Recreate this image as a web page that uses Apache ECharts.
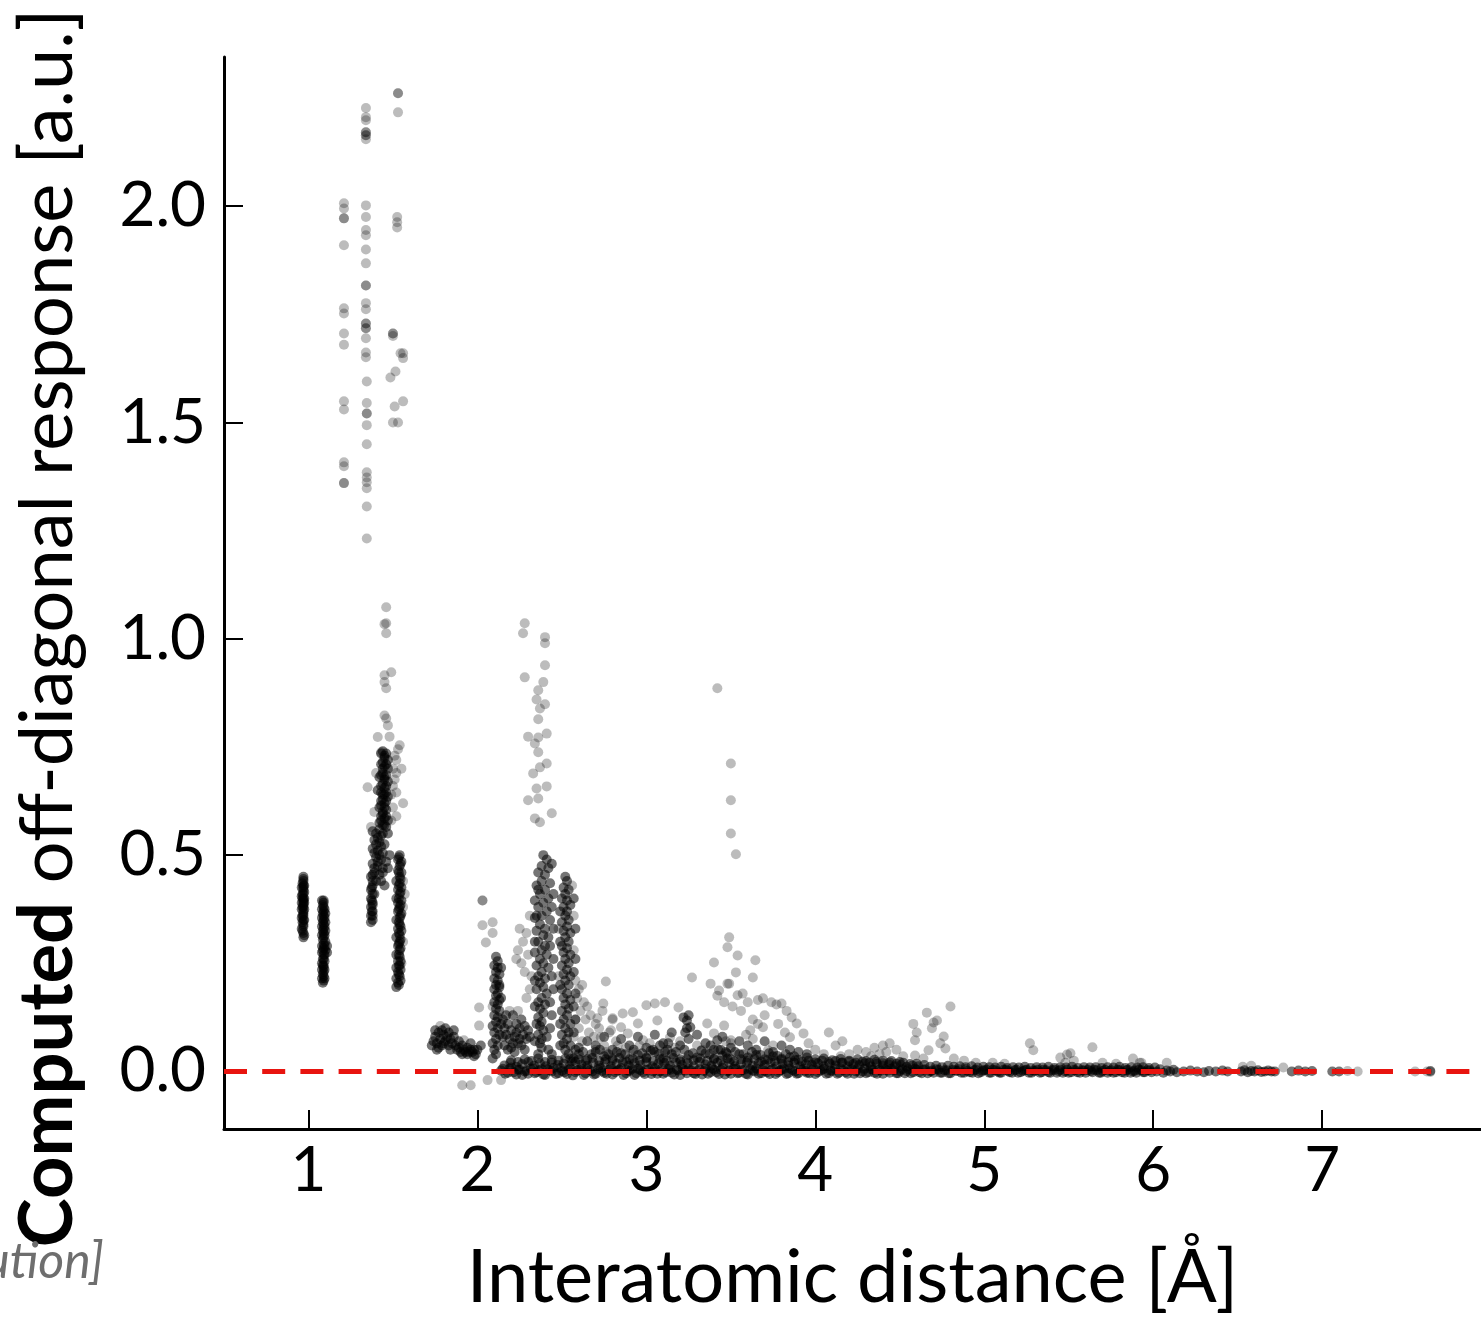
<!DOCTYPE html>
<html><head><meta charset="utf-8">
<script src="https://cdn.jsdelivr.net/npm/echarts@6/dist/echarts.min.js"></script>
<style>html,body{margin:0;padding:0;background:#fff}#c{width:1481px;height:1319px}</style>
</head><body><div id="c"></div><script>
// ---- tick values ----
const xTicks = [1, 2, 3, 4, 5, 6, 7];
const yTicks = [0, 0.5, 1.0, 1.5, 2.0];
// reference line y = 0
const refX = [0.5, 8];
const refY = [0, 0];

// ---- data: [distance, response] ----
// densely populated groups
const shortBonds = [
[0.97,0.45],[0.97,0.44],[0.97,0.43],[0.96,0.425],[0.97,0.42],[0.97,0.41],[0.96,0.405],[0.97,0.40],[0.97,0.395],[0.96,0.39],[0.97,0.385],[0.97,0.38],[0.96,0.375],[0.97,0.37],[0.97,0.36],[0.96,0.355],[0.97,0.35],[0.97,0.34],[0.96,0.33],[0.97,0.32],[0.97,0.31],[0.965,0.36],[0.975,0.39],[0.965,0.41],[0.975,0.43],
[0.97,0.445],[0.965,0.435],[0.97,0.425],[0.975,0.415],[0.965,0.40],[0.975,0.40],[0.97,0.39],[0.965,0.38],[0.975,0.375],[0.97,0.365],[0.965,0.345],[0.975,0.35],[0.97,0.335],[0.965,0.325],[0.975,0.315],
[1.08,0.395],[1.09,0.39],[1.09,0.38],[1.08,0.375],[1.09,0.37],[1.10,0.365],[1.09,0.36],[1.08,0.355],[1.09,0.35],[1.10,0.345],[1.09,0.34],[1.08,0.335],[1.09,0.33],[1.10,0.325],[1.09,0.32],[1.08,0.315],[1.09,0.31],[1.10,0.30],[1.09,0.295],[1.08,0.29],[1.11,0.29],[1.09,0.285],[1.10,0.28],[1.08,0.275],[1.09,0.27],[1.11,0.275],[1.09,0.26],[1.08,0.25],[1.09,0.245],[1.09,0.24],[1.08,0.235],[1.09,0.23],[1.09,0.22],[1.08,0.215],[1.09,0.21],
[1.09,0.395],[1.085,0.385],[1.095,0.375],[1.085,0.365],[1.095,0.355],[1.085,0.345],[1.095,0.335],[1.085,0.325],[1.095,0.315],[1.085,0.305],[1.095,0.29],[1.085,0.28],[1.095,0.27],[1.085,0.26],[1.095,0.255],[1.085,0.245],[1.095,0.235],[1.085,0.225],[1.095,0.215],[1.085,0.205]
];
const bond15Core = [
[1.44,0.74],[1.46,0.735],[1.45,0.725],[1.47,0.72],[1.43,0.71],[1.45,0.705],[1.47,0.70],[1.44,0.69],[1.46,0.685],[1.42,0.68],[1.45,0.675],[1.47,0.67],[1.43,0.66],[1.45,0.655],[1.41,0.65],[1.46,0.645],[1.44,0.64],[1.47,0.635],[1.43,0.625],[1.45,0.62],[1.42,0.61],[1.46,0.605],[1.44,0.60],[1.43,0.59],[1.45,0.585],[1.47,0.58],[1.42,0.575],[1.44,0.57],[1.46,0.565],
[1.43,0.735],[1.45,0.73],[1.44,0.715],[1.46,0.71],[1.44,0.70],[1.43,0.685],[1.45,0.68],[1.44,0.665],[1.46,0.66],[1.43,0.645],[1.45,0.64],[1.44,0.63],[1.46,0.625],[1.43,0.615],[1.45,0.61],[1.44,0.595],[1.46,0.59],[1.43,0.58],[1.45,0.57],[1.42,0.56],[1.44,0.55],[1.41,0.54],[1.43,0.52],[1.40,0.525],[1.42,0.50],[1.39,0.505],[1.41,0.485],[1.39,0.47],[1.38,0.455],[1.38,0.44],[1.375,0.425],[1.38,0.41],[1.375,0.395],[1.38,0.385],[1.375,0.37],[1.38,0.36],
[1.38,0.555],[1.40,0.55],[1.43,0.545],[1.47,0.55],[1.39,0.535],[1.42,0.53],[1.45,0.525],[1.38,0.515],[1.41,0.51],[1.44,0.505],[1.48,0.50],[1.40,0.495],[1.43,0.49],[1.46,0.485],[1.38,0.48],[1.41,0.475],[1.44,0.47],[1.39,0.46],[1.42,0.455],[1.37,0.45],[1.40,0.44],[1.38,0.43],[1.37,0.42],[1.39,0.41],[1.37,0.40],[1.38,0.39],[1.37,0.38],[1.38,0.37],[1.37,0.36],[1.38,0.35],[1.37,0.345],[1.43,0.44],[1.44,0.46],[1.47,0.47],[1.45,0.43],
[1.54,0.50],[1.53,0.49],[1.55,0.485],[1.54,0.475],[1.53,0.465],[1.55,0.46],[1.54,0.45],[1.52,0.44],[1.54,0.435],[1.55,0.425],[1.53,0.42],[1.54,0.41],[1.52,0.40],[1.55,0.395],[1.53,0.39],[1.54,0.38],[1.53,0.37],[1.55,0.365],[1.54,0.355],[1.52,0.35],[1.54,0.34],[1.53,0.33],[1.55,0.325],[1.54,0.315],[1.52,0.31],[1.54,0.30],[1.53,0.29],[1.54,0.28],[1.52,0.27],[1.54,0.265],[1.53,0.255],[1.54,0.245],[1.52,0.24],[1.53,0.23],[1.54,0.22],[1.52,0.215],[1.53,0.205],[1.52,0.195],
[1.535,0.495],[1.545,0.48],[1.535,0.46],[1.545,0.445],[1.535,0.43],[1.545,0.415],[1.535,0.40],[1.545,0.385],[1.535,0.375],[1.545,0.36],[1.535,0.345],[1.545,0.335],[1.535,0.32],[1.545,0.305],[1.535,0.295],[1.545,0.285],[1.535,0.27],[1.545,0.255],[1.535,0.245],[1.545,0.235],[1.535,0.225],[1.545,0.21],[1.535,0.20]
];
const bond2Core = [
[1.74,0.07],[1.75,0.08],[1.76,0.065],[1.77,0.09],[1.78,0.075],[1.79,0.095],[1.80,0.085],[1.80,0.065],[1.81,0.07],[1.82,0.08],[1.83,0.09],[1.84,0.075],[1.85,0.065],[1.86,0.08],[1.87,0.06],[1.88,0.05],[1.89,0.055],[1.90,0.045],[1.91,0.04],[1.92,0.05],[1.93,0.045],[1.94,0.055],[1.95,0.045],[1.96,0.05],[1.97,0.045],[1.98,0.05],[1.99,0.04],[1.76,0.05],[1.83,0.06],
[1.73,0.06],[1.75,0.095],[1.77,0.055],[1.79,0.06],[1.81,0.10],[1.84,0.05],[1.86,0.095],[1.89,0.07],[1.91,0.06],[1.94,0.04],[1.96,0.065],[1.98,0.035],[2.00,0.05],[2.02,0.06],
[2.11,0.265],[2.12,0.255],[2.10,0.245],[2.12,0.24],[2.11,0.23],[2.13,0.225],[2.10,0.215],[2.12,0.21],[2.11,0.20],[2.13,0.195],[2.10,0.19],[2.12,0.18],[2.11,0.175],[2.13,0.165],[2.10,0.16],[2.12,0.155],[2.11,0.145],[2.13,0.14],[2.10,0.13],[2.12,0.125],[2.11,0.115],[2.14,0.11],[2.09,0.105],[2.12,0.10],[2.10,0.09],[2.13,0.085],[2.11,0.075],[2.09,0.065],[2.12,0.06],[2.10,0.05],[2.11,0.04],[2.09,0.03],[2.13,0.20],[2.14,0.17],[2.14,0.24],
[2.15,0.12],[2.16,0.10],[2.17,0.085],[2.18,0.11],[2.19,0.075],[2.20,0.095],[2.21,0.13],[2.22,0.08],[2.23,0.11],[2.24,0.065],[2.25,0.10],[2.26,0.12],[2.27,0.085],[2.28,0.105],[2.29,0.075],[2.30,0.095],[2.31,0.08],[2.16,0.06],[2.18,0.05],[2.20,0.055],[2.22,0.045],[2.15,0.08],[2.17,0.13],[2.26,0.06],[2.28,0.05],[2.21,0.065],[2.23,0.09],[2.25,0.075]
];
const bond25Core = [
[2.39,0.50],[2.41,0.49],[2.38,0.475],[2.42,0.47],[2.36,0.46],[2.40,0.455],[2.38,0.44],[2.43,0.435],[2.35,0.43],[2.40,0.42],[2.37,0.41],[2.42,0.40],[2.34,0.395],[2.39,0.39],[2.36,0.38],[2.41,0.37],[2.38,0.36],[2.34,0.355],[2.43,0.35],[2.37,0.34],[2.40,0.33],[2.35,0.325],[2.39,0.315],[2.42,0.31],[2.36,0.30],[2.40,0.29],[2.38,0.28],[2.34,0.275],[2.41,0.27],[2.37,0.26],[2.39,0.25],[2.35,0.245],[2.42,0.24],[2.38,0.23],[2.36,0.22],[2.40,0.215],[2.37,0.205],[2.39,0.195],[2.35,0.19],[2.41,0.18],[2.38,0.17],[2.36,0.16],[2.40,0.155],[2.37,0.145],[2.39,0.135],[2.36,0.125],[2.38,0.115],[2.37,0.105],[2.39,0.095],[2.36,0.085],[2.38,0.075],[2.37,0.065],[2.38,0.055],
[2.44,0.48],[2.36,0.42],[2.45,0.41],[2.44,0.38],[2.35,0.36],[2.45,0.33],[2.43,0.29],[2.34,0.30],[2.45,0.26],[2.44,0.22],[2.34,0.21],[2.45,0.19],[2.43,0.16],[2.34,0.15],[2.44,0.13],[2.35,0.11],[2.43,0.10],[2.41,0.08],[2.34,0.07],[2.42,0.05],[2.36,0.04],[2.44,0.04],
[2.52,0.45],[2.53,0.44],[2.51,0.425],[2.54,0.42],[2.52,0.41],[2.50,0.40],[2.53,0.395],[2.55,0.385],[2.51,0.38],[2.53,0.37],[2.52,0.36],[2.54,0.35],[2.50,0.345],[2.53,0.335],[2.51,0.325],[2.55,0.32],[2.52,0.31],[2.54,0.30],[2.50,0.29],[2.53,0.285],[2.51,0.275],[2.55,0.27],[2.52,0.26],[2.54,0.25],[2.50,0.245],[2.53,0.235],[2.51,0.225],[2.55,0.22],[2.52,0.21],[2.54,0.20],[2.50,0.19],[2.53,0.18],[2.51,0.17],[2.55,0.165],[2.52,0.155],[2.54,0.145],[2.50,0.14],[2.53,0.13],[2.51,0.12],[2.55,0.11],[2.52,0.10],[2.54,0.09],[2.50,0.085],[2.53,0.075],[2.51,0.065],[2.55,0.06],[2.52,0.05],[2.54,0.04],
[2.57,0.40],[2.49,0.37],[2.58,0.33],[2.49,0.30],[2.58,0.26],[2.57,0.23],[2.49,0.20],[2.58,0.18],[2.57,0.15],[2.49,0.11],[2.58,0.12],[2.57,0.09],[2.49,0.06],[2.58,0.05],[2.57,0.03]
];
const midRangeCore = [
[2.60,0.055],[2.65,0.07],[2.70,0.06],[2.75,0.08],[2.80,0.05],[2.85,0.075],[2.90,0.06],[2.95,0.08],[3.00,0.055],[3.05,0.085],[3.10,0.065],[3.15,0.09],[3.20,0.06],[3.25,0.075],[3.30,0.085],[3.35,0.065],[3.40,0.05],[3.45,0.08],[3.50,0.055],[3.55,0.07],[3.60,0.06],[3.65,0.05],[3.70,0.07],[3.75,0.045],[3.80,0.06],[3.85,0.05],[3.90,0.045],[3.95,0.04],
[2.625,0.045],[2.675,0.04],[2.725,0.05],[2.775,0.04],[2.825,0.045],[2.875,0.04],[2.925,0.05],[2.975,0.042],[3.025,0.048],[3.075,0.04],[3.125,0.05],[3.175,0.045],[3.225,0.05],[3.275,0.042],[3.325,0.048],[3.375,0.04],[3.425,0.05],[3.475,0.042],[3.525,0.045],[3.575,0.04],[3.625,0.045],[3.675,0.038],[3.725,0.042],[3.775,0.036],[3.825,0.04],[3.875,0.035],
[3.24,0.118],[3.24,0.10],[3.26,0.102],[3.22,0.125],[3.25,0.13],[3.23,0.09],[3.42,0.072],[3.44,0.05],[3.47,0.045],[3.38,0.06],[3.04,0.05],[3.08,0.06],[3.11,0.045],[3.13,0.065]
];
const zeroBand = [
[2.14,0.002],[2.165,-0.005],[2.19,0.006],[2.215,-0.002],[2.24,0.004],[2.265,-0.008],[2.29,0.001],[2.315,0.007],[2.34,-0.004],[2.365,0.003],[2.39,-0.007],[2.415,0.005],[2.44,0.0],[2.465,-0.006],[2.49,0.008],[2.515,-0.002],[2.54,0.004],[2.565,-0.009],[2.59,0.002],[2.615,0.006],[2.64,-0.004],[2.665,0.003],[2.69,-0.007],[2.715,0.005],[2.74,0.001],[2.765,-0.005],[2.79,0.007],[2.815,-0.002],[2.84,0.004],[2.865,-0.008],[2.89,0.002],[2.915,0.006],[2.94,-0.004],[2.965,0.003],[2.99,-0.006],[3.015,0.005],[3.04,0.0],[3.065,-0.005],[3.09,0.007],[3.115,-0.002],[3.14,0.004],[3.165,-0.007],[3.19,0.002],[3.215,0.006],[3.24,-0.004],[3.265,0.003],[3.29,-0.006],[3.315,0.005],[3.34,0.001],[3.365,-0.005],[3.39,0.007],[3.415,-0.002],[3.44,0.004],[3.465,-0.007],[3.49,0.002],[3.515,0.006],[3.54,-0.004],[3.565,0.003],[3.59,-0.006],[3.615,0.005],[3.64,0.0],[3.665,-0.005],[3.69,0.007],[3.715,-0.002],[3.74,0.004],[3.765,-0.006],[3.79,0.002],[3.815,0.006],[3.84,-0.004],[3.865,0.003],[3.89,-0.005],[3.915,0.005],[3.94,0.001],[3.965,-0.004],[3.99,0.006],[4.015,-0.002],[4.04,0.004],[4.065,-0.005],[4.09,0.002],[4.115,0.006],[4.14,-0.003],[4.165,0.003],[4.19,-0.005],[4.215,0.005],[4.24,0.0],[4.265,-0.004],[4.29,0.006],[4.315,-0.002],[4.34,0.004],[4.365,-0.005],[4.39,0.002],[4.415,0.005],[4.44,-0.003],[4.465,0.003],[4.49,-0.004],[4.515,0.005],[4.54,0.001],[4.565,-0.004],[4.59,0.006],[4.615,-0.002],[4.64,0.004],[4.665,-0.004],[4.69,0.002],[4.715,0.005],[4.74,-0.003],[4.765,0.003],[4.79,-0.004],[4.815,0.004],[4.84,0.001],[4.865,-0.003],[4.89,0.005],[4.915,-0.002],[4.94,0.003],[4.965,-0.004],[4.99,0.002],[5.015,0.004],[5.04,-0.003],[5.065,0.003],[5.09,-0.003],[5.115,0.004],[5.14,0.001],[5.165,-0.003],[5.19,0.004],[5.215,-0.002],[5.24,0.003],[5.265,-0.003],[5.29,0.002],[5.315,0.004],[5.34,-0.002],[5.365,0.003],[5.39,-0.003],[5.415,0.004],[5.44,0.001],[5.465,-0.003],[5.49,0.004],[5.515,-0.002],[5.54,0.003],[5.565,-0.003],[5.59,0.002],[5.615,0.004],[5.64,-0.002],[5.665,0.003],[5.69,-0.003],[5.715,0.004],[5.74,0.001],[5.765,-0.003],[5.79,0.004],[5.815,-0.002],[5.84,0.003],[5.865,-0.003],[5.89,0.002],[5.915,0.004],[5.94,-0.002],[5.965,0.003],[5.99,-0.002],
[2.15,0.006],[2.18,-0.003],[2.20,0.009],[2.23,-0.007],[2.25,0.004],[2.28,0.0],[2.30,-0.005],[2.33,0.007],[2.35,-0.002],[2.38,0.005],[2.40,-0.008],[2.43,0.003],[2.45,0.008],[2.48,-0.004],[2.50,0.001],[2.53,-0.006],[2.55,0.007],[2.58,-0.002],[2.60,0.004],[2.63,-0.008],[2.65,0.006],[2.68,0.0],[2.70,-0.005],[2.73,0.008],[2.75,-0.003],[2.78,0.004],[2.80,-0.007],[2.83,0.002],[2.85,0.008],[2.88,-0.004],[2.90,0.001],[2.93,-0.008],[2.95,0.006],[2.98,-0.002],[3.00,0.004],[3.03,-0.006],[3.05,0.008],[3.08,0.0],[3.10,-0.005],[3.13,0.006],[3.15,-0.003],[3.18,0.004],[3.20,-0.008],[3.23,0.002],[3.25,0.007],[3.28,-0.004],[3.30,0.001],[3.33,-0.007],[3.35,0.006],[3.38,-0.002],[3.40,0.004],[3.43,-0.006],[3.45,0.008],[3.48,0.0],[3.50,-0.005],[3.53,0.006],[3.55,-0.003],[3.58,0.004],[3.60,-0.007],[3.63,0.002],[3.65,0.007],[3.68,-0.004],[3.70,0.001],[3.73,-0.006],[3.75,0.006],[3.78,-0.002],[3.80,0.004],[3.83,-0.006],[3.85,0.007],[3.88,0.0],[3.90,-0.004],[3.93,0.006],[3.95,-0.003],[3.98,0.004],[4.00,-0.006],[4.03,0.002],[4.05,0.006],[4.08,-0.004],[4.10,0.001],[4.13,-0.005],[4.15,0.006],[4.18,-0.002],[4.20,0.004],[4.23,-0.005],[4.25,0.006],[4.28,0.0],[4.30,-0.004],[4.33,0.005],[4.35,-0.003],[4.38,0.004],[4.40,-0.005],[4.43,0.002],[4.45,0.006],[4.48,-0.004],[4.50,0.001],[4.53,-0.004],[4.55,0.005],[4.58,-0.002],[4.60,0.004],[4.63,-0.004],[4.65,0.005],[4.68,0.0],[4.70,-0.003],[4.73,0.004],[4.75,-0.003],[4.78,0.003],[4.80,-0.004],[4.83,0.002],[4.85,0.005],[4.88,-0.003],[4.90,0.001],[4.93,-0.003],[4.95,0.004],[4.98,-0.002],[5.00,0.003],[5.03,-0.003],[5.05,0.004],[5.08,0.0],[5.10,-0.003],[5.13,0.004],[5.15,-0.002],[5.18,0.003],[5.20,-0.003],[5.23,0.001],[5.25,0.004],[5.28,-0.003],[5.30,0.001],[5.33,-0.003],[5.35,0.004],[5.38,-0.002],[5.40,0.003],[5.43,-0.003],[5.45,0.004],[5.48,0.0],[5.50,-0.003],[5.53,0.004],[5.55,-0.002],[5.58,0.003],[5.60,-0.003],[5.63,0.001],[5.65,0.004],[5.68,-0.003],[5.70,0.001],[5.73,-0.003],[5.75,0.003],[5.78,-0.002],[5.80,0.003],[5.83,-0.003],[5.85,0.004],[5.88,0.0],[5.90,-0.003],[5.93,0.003],[5.95,-0.002],[5.98,0.003],
[2.16,0.014],[2.195,0.02],[2.23,0.011],[2.265,0.017],[2.30,0.022],[2.335,0.013],[2.37,0.019],[2.405,0.012],[2.44,0.021],[2.475,0.015],[2.51,0.018],[2.545,0.012],[2.58,0.022],[2.615,0.016],[2.65,0.013],[2.685,0.02],[2.72,0.014],[2.755,0.022],[2.79,0.012],[2.825,0.018],[2.86,0.021],[2.895,0.013],[2.93,0.019],[2.965,0.015],[3.00,0.022],[3.035,0.012],[3.07,0.018],[3.105,0.02],[3.14,0.013],[3.175,0.021],[3.21,0.015],[3.245,0.019],[3.28,0.012],[3.315,0.022],[3.35,0.016],[3.385,0.013],[3.42,0.02],[3.455,0.014],[3.49,0.021],[3.525,0.012],[3.56,0.018],[3.595,0.02],[3.63,0.013],[3.665,0.019],[3.70,0.015],[3.735,0.021],[3.77,0.012],[3.805,0.018],[3.84,0.014],[3.875,0.02],[3.91,0.012],[3.945,0.017],[3.98,0.015],[4.015,0.019],[4.05,0.012],[4.085,0.018],[4.12,0.014],[4.155,0.02],[4.19,0.012],[4.225,0.017],[4.26,0.015],[4.295,0.019],[4.33,0.012],[4.365,0.018],[4.40,0.014],[4.435,0.016],[4.47,0.012],[4.505,0.015],[4.54,0.011],[4.575,0.014],[4.61,0.012],[4.645,0.015],[4.68,0.011],[4.715,0.013],[4.75,0.01],[4.785,0.013],[4.82,0.011],[4.855,0.012],[4.89,0.01],[4.925,0.012],[4.96,0.009],[4.995,0.011],[5.03,0.01],[5.065,0.009],[5.10,0.011],[5.135,0.008],[5.17,0.01],[5.205,0.009],[5.24,0.011],[5.275,0.008],[5.31,0.01],[5.345,0.009],[5.38,0.011],[5.415,0.008],[5.45,0.01],[5.485,0.009],[5.52,0.011],[5.555,0.008],[5.59,0.01],[5.625,0.009],[5.66,0.01],[5.695,0.008],[5.73,0.01],[5.765,0.009],[5.80,0.011],[5.835,0.008],[5.87,0.01],[5.905,0.009],[5.94,0.01],[5.975,0.008],[6.01,0.009],
[2.20,0.026],[2.24,0.022],[2.28,0.028],[2.32,0.024],[2.36,0.03],[2.40,0.022],[2.44,0.027],[2.48,0.025],[2.52,0.03],[2.56,0.023],[2.60,0.028],[2.64,0.025],[2.68,0.031],[2.72,0.024],[2.76,0.028],[2.80,0.026],[2.84,0.031],[2.88,0.023],[2.92,0.029],[2.96,0.025],[3.00,0.03],[3.04,0.024],[3.08,0.028],[3.12,0.025],[3.16,0.031],[3.20,0.023],[3.24,0.029],[3.28,0.026],[3.32,0.03],[3.36,0.024],[3.40,0.028],[3.44,0.025],[3.48,0.03],[3.52,0.023],[3.56,0.028],[3.60,0.025],[3.64,0.029],[3.68,0.023],[3.72,0.027],[3.76,0.024],[3.80,0.027],[3.84,0.022],[3.88,0.026],[3.92,0.023],[3.96,0.025],[4.00,0.021],[4.04,0.025],[4.08,0.022],[4.12,0.024],[4.16,0.021],[4.20,0.023],[4.24,0.02],[4.28,0.023],[4.32,0.02],[4.36,0.022],[4.40,0.019],[4.44,0.021],[4.48,0.018],[4.52,0.02],[4.56,0.017],[4.60,0.018],
[2.55,0.03],[2.60,0.04],[2.65,0.028],[2.70,0.045],[2.75,0.035],[2.80,0.03],[2.85,0.042],[2.90,0.028],[2.95,0.038],[3.00,0.032],[3.05,0.045],[3.10,0.03],[3.15,0.04],[3.20,0.028],[3.25,0.038],[3.30,0.032],[3.35,0.042],[3.40,0.03],[3.45,0.036],[3.50,0.028],[3.55,0.04],[3.60,0.032],[3.65,0.038],[3.70,0.028],[3.75,0.035],[3.80,0.03],[3.85,0.033],[3.90,0.027],[3.95,0.032],[4.00,0.028],[4.05,0.03],[4.10,0.026],[4.15,0.029],[4.20,0.025],[4.25,0.028],[4.30,0.024],[4.35,0.027],[4.40,0.025],[4.45,0.024],[4.50,0.022]
];
const tailBand = [
[6.02,0.0],[6.04,0.005],[6.06,-0.003],[6.08,0.002],[6.10,0.0],[6.12,0.004],[6.14,-0.002],[6.18,0.0],[6.22,0.002],[6.26,0.0],[6.30,-0.002],[6.33,0.001],[6.37,0.0],[6.41,0.002],[6.44,0.0],[6.52,0.0],[6.54,0.003],[6.56,-0.002],[6.58,0.001],[6.60,0.0],[6.62,0.003],[6.64,-0.001],[6.66,0.0],[6.68,0.002],[6.70,0.0],[6.72,0.0],[6.82,0.0],[6.86,0.002],[6.90,0.0],[6.94,0.001],[7.06,0.0],[7.10,0.0],[7.64,0.001]
];
// sparsely populated groups
const highOutliers = [
[1.21,2.007],[1.21,1.995],[1.21,1.972],[1.21,1.972],[1.21,1.91],[1.21,1.764],[1.21,1.752],[1.21,1.706],[1.21,1.68],[1.21,1.549],[1.21,1.53],[1.21,1.408],[1.21,1.399],[1.21,1.36],[1.21,1.36],
[1.34,2.227],[1.34,2.206],[1.34,2.199],[1.34,2.171],[1.34,2.171],[1.34,2.164],[1.34,2.164],[1.34,2.155],[1.34,2.002],[1.34,1.975],[1.34,1.945],[1.34,1.933],[1.34,1.90],[1.34,1.868],[1.34,1.817],[1.34,1.817],[1.34,1.776],[1.34,1.762],[1.34,1.729],[1.34,1.729],[1.34,1.718],[1.34,1.718],[1.34,1.695],[1.34,1.662],[1.34,1.651],[1.345,1.595],[1.345,1.545],[1.345,1.521],[1.345,1.521],[1.345,1.494],[1.345,1.45],[1.345,1.385],[1.345,1.373],[1.345,1.362],[1.345,1.348],[1.345,1.306],[1.345,1.232],
[1.53,2.261],[1.53,2.261],[1.53,2.217],[1.525,1.975],[1.525,1.963],[1.525,1.951],[1.50,1.706],[1.50,1.706],[1.50,1.70],[1.545,1.66],[1.56,1.66],[1.56,1.649],[1.515,1.618],[1.485,1.604],[1.56,1.549],[1.51,1.537],[1.50,1.50],[1.53,1.50]
];
const bond15Spread = [
[1.46,1.073],[1.46,1.036],[1.45,1.034],[1.46,1.013],[1.49,0.923],[1.45,0.916],[1.45,0.90],[1.46,0.886],[1.45,0.823],[1.46,0.816],[1.47,0.80],[1.41,0.773],[1.48,0.774],[1.54,0.754],[1.43,0.738],
[1.53,0.745],[1.51,0.73],[1.52,0.72],[1.55,0.70],[1.52,0.69],[1.51,0.675],[1.50,0.66],[1.52,0.645],[1.56,0.62],[1.50,0.70],[1.49,0.64],[1.50,0.61],[1.52,0.59],[1.49,0.58],
[1.35,0.657],[1.37,0.565],[1.39,0.60],[1.40,0.69],[1.56,0.44],[1.56,0.38],[1.57,0.41],[1.56,0.30],[1.55,0.25]
];
const bond2Spread = [
[1.92,0.072],[1.78,0.105],[2.01,0.106],[2.01,0.148],[1.91,-0.032],[1.96,-0.032],[2.06,-0.02],[2.14,-0.02],
[2.03,0.395],[2.03,0.395],[2.03,0.338],[2.09,0.345],[2.09,0.32],[2.05,0.298],[2.09,0.15],[2.24,0.14],[2.19,0.14]
];
const bond25Spread = [
[2.28,1.036],[2.27,1.013],[2.40,1.004],[2.40,0.99],[2.40,0.939],[2.28,0.911],[2.39,0.90],[2.36,0.881],[2.35,0.86],[2.40,0.849],[2.37,0.839],[2.36,0.814],[2.41,0.781],[2.30,0.774],[2.36,0.772],[2.34,0.758],[2.36,0.738],[2.41,0.712],[2.37,0.703],[2.33,0.689],[2.41,0.659],[2.35,0.654],[2.30,0.627],[2.36,0.631],[2.44,0.597],[2.34,0.585],[2.37,0.576],
[2.25,0.33],[2.27,0.30],[2.24,0.28],[2.29,0.32],[2.26,0.25],[2.30,0.27],[2.28,0.23],[2.31,0.36],[2.32,0.22],[2.23,0.26],[2.31,0.19],[2.29,0.17],
[2.56,0.43],[2.57,0.36],[2.48,0.33],[2.57,0.28],[2.48,0.22],
[2.58,0.21],[2.60,0.19],[2.62,0.20],[2.59,0.17],[2.63,0.16],[2.61,0.14],[2.65,0.15],[2.58,0.12],[2.64,0.12],[2.67,0.13],[2.70,0.11],[2.66,0.09],[2.72,0.10],[2.69,0.08],[2.76,0.208],[2.74,0.14],[2.60,0.10],[2.62,0.07],[2.57,0.08],[2.75,0.06],[2.78,0.09],[2.80,0.12],[2.82,0.07]
];
const midRangeSpread = [
[2.745,0.157],[2.71,0.123],[2.80,0.123],[2.86,0.134],[2.92,0.137],[3.00,0.153],[3.05,0.157],[3.11,0.16],[3.19,0.148],[3.27,0.217],[3.14,0.079],[3.065,0.118],[2.95,0.111],[2.85,0.102],[2.79,0.095],[2.73,0.079],[2.89,0.088],[2.98,0.072],[3.02,0.065],[3.36,0.111],[3.40,0.088],[3.46,0.106],[3.50,0.072],
[3.17,0.055],[3.20,0.07],[2.88,0.055],[2.92,0.045],[2.96,0.06],[2.70,0.05],[2.76,0.045],[2.83,0.06],[3.30,0.06],[3.33,0.05],
[3.38,0.203],[3.43,0.187],[3.42,0.175],[3.48,0.203],[3.49,0.203],[3.54,0.176],[3.57,0.18],[3.63,0.217],[3.645,0.257],[3.54,0.268],[3.48,0.287],[3.49,0.31],[3.40,0.252],[3.53,0.229],[3.60,0.16],[3.66,0.165],[3.69,0.169],[3.74,0.16],[3.77,0.155],[3.80,0.157],[3.83,0.14],[3.86,0.125],[3.89,0.111],[3.69,0.102],[3.66,0.11],[3.63,0.12],[3.615,0.095],[3.59,0.085],[3.63,0.075],[3.93,0.088],[3.96,0.065],[3.85,0.079],[3.72,0.049],[3.75,0.06],[3.50,0.065],[3.47,0.07],[3.56,0.14],[3.51,0.15],[3.46,0.16],[3.70,0.13],[3.78,0.11],[3.82,0.09],
[3.42,0.886],[3.50,0.712],[3.50,0.627],[3.50,0.55],[3.53,0.502]
];
const longRangeSpread = [
[4.08,0.09],[4.12,0.06],[4.00,0.05],[4.05,0.04],[4.16,0.07],
[4.20,0.04],[4.25,0.05],[4.30,0.045],[4.35,0.055],[4.40,0.06],[4.44,0.065],[4.48,0.05],[4.52,0.035],[4.15,0.035],[4.33,0.035],[4.38,0.04],[4.42,0.045],
[4.58,0.11],[4.66,0.136],[4.80,0.15],[4.70,0.113],[4.72,0.118],[4.60,0.09],[4.59,0.072],[4.69,0.10],[4.76,0.081],[4.74,0.065],[4.67,0.049],[4.77,0.053],[4.59,0.037],[4.64,0.03],[4.82,0.03],
[4.88,0.025],[4.95,0.02],[5.05,0.02],[5.12,0.018],[5.27,0.065],[5.29,0.049],[5.45,0.032],[5.49,0.039],[5.51,0.042],[5.48,0.02],[5.53,0.025],[5.64,0.056],[5.70,0.02],[5.78,0.018],[5.88,0.03],[5.93,0.02],[5.92,0.02],
[6.08,0.02],[6.53,0.011],[6.58,0.013],[6.77,0.009],[7.15,0.001],[7.21,0.0],[7.55,0.0],[7.62,0.0],[7.64,-0.001]
];

const FONT = 'Lato, "Open Sans", sans-serif';
const chart = echarts.init(document.getElementById('c'));
const denseGroups = [zeroBand, shortBonds, bond15Core, bond2Core, bond25Core, midRangeCore, tailBand];
const sparseGroups = [highOutliers, bond15Spread, bond2Spread, bond25Spread, midRangeSpread, longRangeSpread];
const mk = (d, a) => ({
  type: 'scatter', data: d, symbol: 'circle', symbolSize: 10,
  itemStyle: { color: 'rgba(0,0,0,' + a + ')' }, silent: true, z: 2
});
const series = sparseGroups.map(d => mk(d, 0.33)).concat(denseGroups.map(d => mk(d, 0.68)));
series.push({
  type: 'line', data: refX.map((x, i) => [x, refY[i]]), symbol: 'none', silent: true, z: 5,
  lineStyle: { color: '#e8140f', width: 5, type: [23, 15.2] }
});

chart.setOption({
  animation: false,
  grid: { left: 224, top: 57, right: 0, bottom: 190, outerBoundsMode: 'none', containLabel: false },
  xAxis: {
    type: 'value', min: 0.5, max: 7.94,
    axisLine: { onZero: false, lineStyle: { color: '#000', width: 3 } },
    axisTick: { inside: true, length: 19, customValues: xTicks, lineStyle: { color: '#000', width: 2 } },
    axisLabel: { customValues: xTicks, fontSize: 62, color: '#000', fontFamily: FONT, margin: 11 },
    splitLine: { show: false },
    name: 'Interatomic distance [Å]', nameLocation: 'middle', nameGap: 112,
    nameTextStyle: { fontSize: 74, color: '#000', fontFamily: FONT }
  },
  yAxis: {
    type: 'value', min: -0.133, max: 2.345,
    axisLine: { onZero: false, lineStyle: { color: '#000', width: 3 } },
    axisTick: { inside: true, length: 19, customValues: yTicks, lineStyle: { color: '#000', width: 2 } },
    axisLabel: { customValues: yTicks, formatter: v => v.toFixed(1), fontSize: 62, color: '#000', fontFamily: FONT, margin: 18 },
    splitLine: { show: false }
  },
  graphic: [
    { type: 'text', x: 48, y: 628, rotation: Math.PI / 2, z: 10,
      style: { text: '{b|Computed} off-diagonal response [a.u.]', fontSize: 74, fontFamily: FONT, fill: '#000',
        align: 'center', verticalAlign: 'middle',
        rich: { b: { fontSize: 74, fontFamily: FONT, fontWeight: 'bold', fill: '#000' } } } },
    { type: 'text', x: 104, y: 1262, z: 11,
      style: { text: 'ution]', fontSize: 50, fontStyle: 'italic', fontFamily: FONT, fill: '#6e6e6e',
        align: 'right', verticalAlign: 'middle' } }
  ],
  series: series
});
</script></body></html>
